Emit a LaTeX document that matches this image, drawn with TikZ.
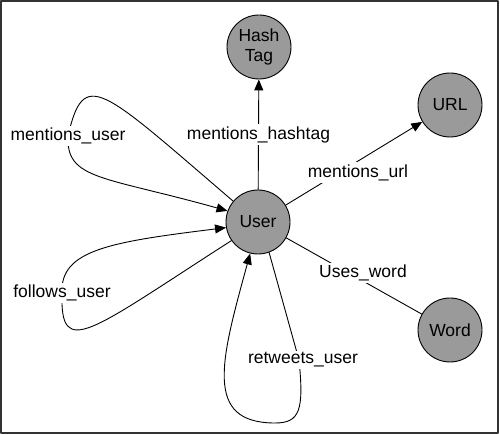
\documentclass[tikz,border=0pt]{standalone}
\usepackage{fontspec}
\setmainfont{Liberation Sans}
\usetikzlibrary{arrows.meta}
\definecolor{nodegray}{HTML}{9A9A9A}
\definecolor{framegray}{HTML}{333333}
\tikzset{
  every picture/.style={font=\fontsize{17.5}{20}\selectfont, line join=round, line cap=round, >={Triangle[length=11pt,width=9pt]}},
  entity/.style={circle, draw, fill=nodegray, minimum size=64pt, inner sep=0pt, align=center, line width=0.9pt},
  rel/.style={fill=white, inner sep=2pt},
  link/.style={line width=0.9pt},
}

\begin{document}
\begin{tikzpicture}[x=1pt,y=1pt]
\useasboundingbox (0,0) rectangle (500,435);
\draw[framegray, line width=2pt] (1,2) rectangle (498,434);
% entities
\node[entity] (user) at (258,213) {User};
\node[entity] (hashtag) at (259,388) {Hash\\Tag};
\node[entity] (url) at (450,330) {URL};
\node[entity] (word) at (450,105) {Word};
% turning points of the loops
\coordinate (mu) at (68,299);
\coordinate (fu) at (62,142);
\coordinate (rt) at (299,75);
\coordinate (rtbot) at (275,12);
% one-way relations
\draw[link,->] (user) -- (hashtag) node[midway,rel] {mentions\_hashtag};
\draw[link,->] (user) -- (url) node[midway,rel,xshift=4pt,yshift=-9pt] {mentions\_url};
\draw[link] (user) -- (word) node[midway,rel,xshift=9pt,yshift=3pt] {Uses\_word};
% self loops on User
\draw[link,->] (user.140) .. controls (100,348) and (84,368) .. (mu) node[rel] {mentions\_user}
  .. controls (66,255) and (103,259) .. (user.160);
\draw[link,->] (user.215) .. controls (89,103) and (60,75) .. (fu) node[rel] {follows\_user}
  .. controls (60,185) and (110,193) .. (user.190);
\draw[link,->] (user.290) -- (rt) node[rel,xshift=4pt] {retweets\_user}
  .. controls (304,25) and (300,12) .. (rtbot)
  .. controls (203,12) and (221,75) .. (user.256);
\end{tikzpicture}
\end{document}
